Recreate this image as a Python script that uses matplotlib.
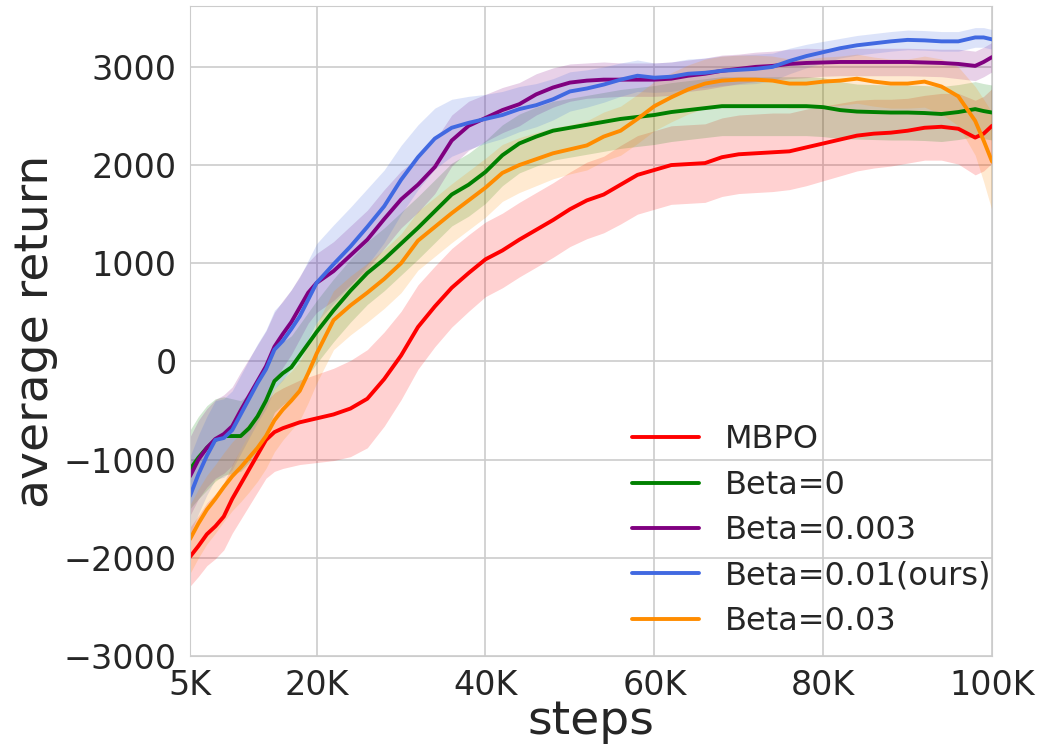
import numpy as np
import matplotlib
matplotlib.use("Agg")
import matplotlib.pyplot as plt
import seaborn as sns

steps_k = [5, 6, 7, 8, 9, 10, 11, 12, 13, 14, 15, 16, 17, 18, 19, 20,
           22, 24, 26, 28, 30, 32, 34, 36, 38, 40, 42, 44, 46, 48, 50,
           52, 54, 56, 58, 60, 62, 64, 66, 68, 70, 72, 74, 76, 78, 80,
           82, 84, 86, 88, 90, 92, 94, 96, 98, 99, 100]

mbpo = [-1990, -1880, -1760, -1680, -1580, -1400, -1250, -1100, -950, -800, -720, -680, -650, -620, -600, -580,
        -540, -480, -380, -180, 60, 350, 560, 750, 900, 1040, 1130, 1240, 1340, 1440, 1550,
        1640, 1700, 1800, 1900, 1950, 2000, 2010, 2020, 2080, 2110, 2120, 2130, 2140, 2180, 2220,
        2260, 2300, 2320, 2330, 2350, 2380, 2390, 2370, 2280, 2320, 2400]
mbpo_sd = [300, 310, 320, 330, 340, 350, 360, 370, 380, 390, 400, 410, 420, 430, 440, 450,
           470, 490, 500, 480, 450, 430, 410, 400, 390, 380, 380, 380, 380, 380, 380,
           390, 390, 400, 400, 400, 400, 400, 400, 400, 400, 400, 400, 390, 390, 380,
           370, 360, 350, 340, 330, 330, 340, 360, 380, 380, 380]

beta0 = [-1100, -980, -880, -800, -760, -760, -760, -680, -560, -400, -200, -120, -60, 60, 180, 300,
         520, 720, 900, 1040, 1200, 1360, 1530, 1700, 1800, 1930, 2100, 2220, 2290, 2350, 2380,
         2410, 2440, 2470, 2490, 2510, 2540, 2560, 2580, 2600, 2600, 2600, 2600, 2600, 2600, 2590,
         2560, 2545, 2540, 2535, 2535, 2530, 2520, 2540, 2570, 2550, 2535]
beta0_sd = [400, 420, 430, 420, 400, 380, 360, 350, 340, 330, 320, 320, 320, 320, 320, 320,
            320, 320, 320, 320, 320, 320, 320, 320, 320, 320, 310, 300, 300, 300, 300,
            300, 300, 300, 300, 300, 300, 300, 300, 300, 300, 300, 300, 300, 300, 300,
            290, 280, 280, 280, 280, 280, 280, 280, 280, 280, 280]

beta0003 = [-1170, -1000, -880, -790, -740, -660, -500, -350, -200, -50, 150, 280, 400, 550, 700, 800,
            920, 1080, 1240, 1450, 1650, 1800, 1980, 2250, 2400, 2480, 2560, 2620, 2720, 2790, 2840,
            2860, 2870, 2870, 2870, 2870, 2880, 2910, 2930, 2960, 2980, 3000, 3010, 3030, 3040, 3045,
            3050, 3050, 3050, 3050, 3050, 3045, 3040, 3030, 3010, 3050, 3100]
beta0003_sd = [400, 400, 400, 400, 400, 400, 390, 380, 370, 360, 350, 340, 330, 320, 310, 300,
               300, 300, 300, 300, 290, 280, 270, 260, 250, 240, 230, 220, 210, 200, 190,
               180, 180, 170, 170, 170, 170, 160, 160, 160, 150, 150, 150, 150, 150, 140,
               140, 140, 140, 140, 140, 140, 140, 150, 150, 150, 150]

beta001 = [-1370, -1150, -960, -800, -780, -700, -540, -380, -220, -80, 120, 210, 330, 460, 630, 800,
           990, 1170, 1370, 1580, 1850, 2080, 2270, 2380, 2430, 2470, 2510, 2570, 2610, 2670, 2750,
           2780, 2820, 2870, 2910, 2890, 2900, 2930, 2940, 2960, 2970, 2980, 3000, 3060, 3110, 3150,
           3190, 3220, 3240, 3260, 3275, 3270, 3260, 3260, 3300, 3300, 3280]
beta001_sd = [400, 400, 400, 400, 400, 400, 400, 400, 400, 400, 400, 400, 400, 400, 400, 400,
              400, 400, 390, 370, 350, 330, 310, 290, 270, 250, 240, 230, 220, 210, 200,
              190, 180, 170, 160, 150, 150, 150, 150, 150, 150, 150, 140, 130, 120, 110,
              100, 100, 100, 100, 100, 100, 100, 100, 100, 100, 100]

beta003 = [-1810, -1650, -1510, -1400, -1280, -1170, -1080, -980, -880, -760, -600, -490, -400, -300, -120, 80,
           420, 570, 700, 840, 1000, 1230, 1370, 1510, 1640, 1770, 1920, 2000, 2060, 2120, 2160,
           2200, 2290, 2350, 2470, 2600, 2690, 2770, 2830, 2860, 2870, 2870, 2860, 2830, 2830, 2850,
           2860, 2880, 2850, 2830, 2830, 2850, 2800, 2700, 2450, 2250, 2035]
beta003_sd = [350, 350, 350, 350, 350, 350, 350, 350, 340, 330, 320, 310, 300, 300, 300, 300,
              300, 300, 300, 300, 300, 300, 300, 300, 300, 300, 290, 280, 270, 260, 250,
              250, 250, 250, 250, 250, 250, 250, 250, 250, 250, 250, 250, 250, 250, 250,
              250, 250, 250, 250, 250, 260, 280, 300, 350, 420, 500]

series = [
    ("MBPO", mbpo, mbpo_sd, "red"),
    ("Beta=0", beta0, beta0_sd, "green"),
    ("Beta=0.003", beta0003, beta0003_sd, "purple"),
    ("Beta=0.01(ours)", beta001, beta001_sd, "royalblue"),
    ("Beta=0.03", beta003, beta003_sd, "darkorange"),
]

xtick_vals = [5000, 20000, 40000, 60000, 80000, 100000]
xtick_labels = ["5K", "20K", "40K", "60K", "80K", "100K"]
ytick_vals = [-3000, -2000, -1000, 0, 1000, 2000, 3000]

sns.set_style("whitegrid")
plt.rcParams['font.family'] = ['DejaVu Sans']

fig = plt.figure(figsize=(10.41, 7.52), dpi=100)
ax = fig.add_axes([0.1825, 0.1277, 0.953 - 0.1825, 0.992 - 0.1277])

x = np.array(steps_k) * 1000
for label, mean, sd, color in series:
    m = np.array(mean, dtype=float)
    s = np.array(sd, dtype=float)
    ax.fill_between(x, m - s, m + s, color=color, alpha=0.18, linewidth=0)
for label, mean, sd, color in series:
    ax.plot(x, mean, color=color, linewidth=2.8, label=label)

ax.set_xlim(5000, 100000)
ax.set_ylim(-3000, 3620)
ax.set_xticks(xtick_vals)
ax.set_xticklabels(xtick_labels)
ax.set_yticks(ytick_vals)
ax.tick_params(axis='both', labelsize=24, colors='#262626', pad=6)
for sp in ax.spines.values():
    sp.set_color('#cccccc')
ax.grid(True, color='#cccccc', linewidth=1.2)
ax.set_xlabel("steps", fontsize=34, color='#262626', labelpad=-2)
ax.set_ylabel("average return", fontsize=34, color='#262626', labelpad=4)

leg = ax.legend(loc='lower right', bbox_to_anchor=(1.035, -0.015), fontsize=23,
                frameon=False, handlelength=2.1, labelspacing=0.45)
for t in leg.get_texts():
    t.set_color('#262626')

fig.savefig("out.png", dpi=100)
